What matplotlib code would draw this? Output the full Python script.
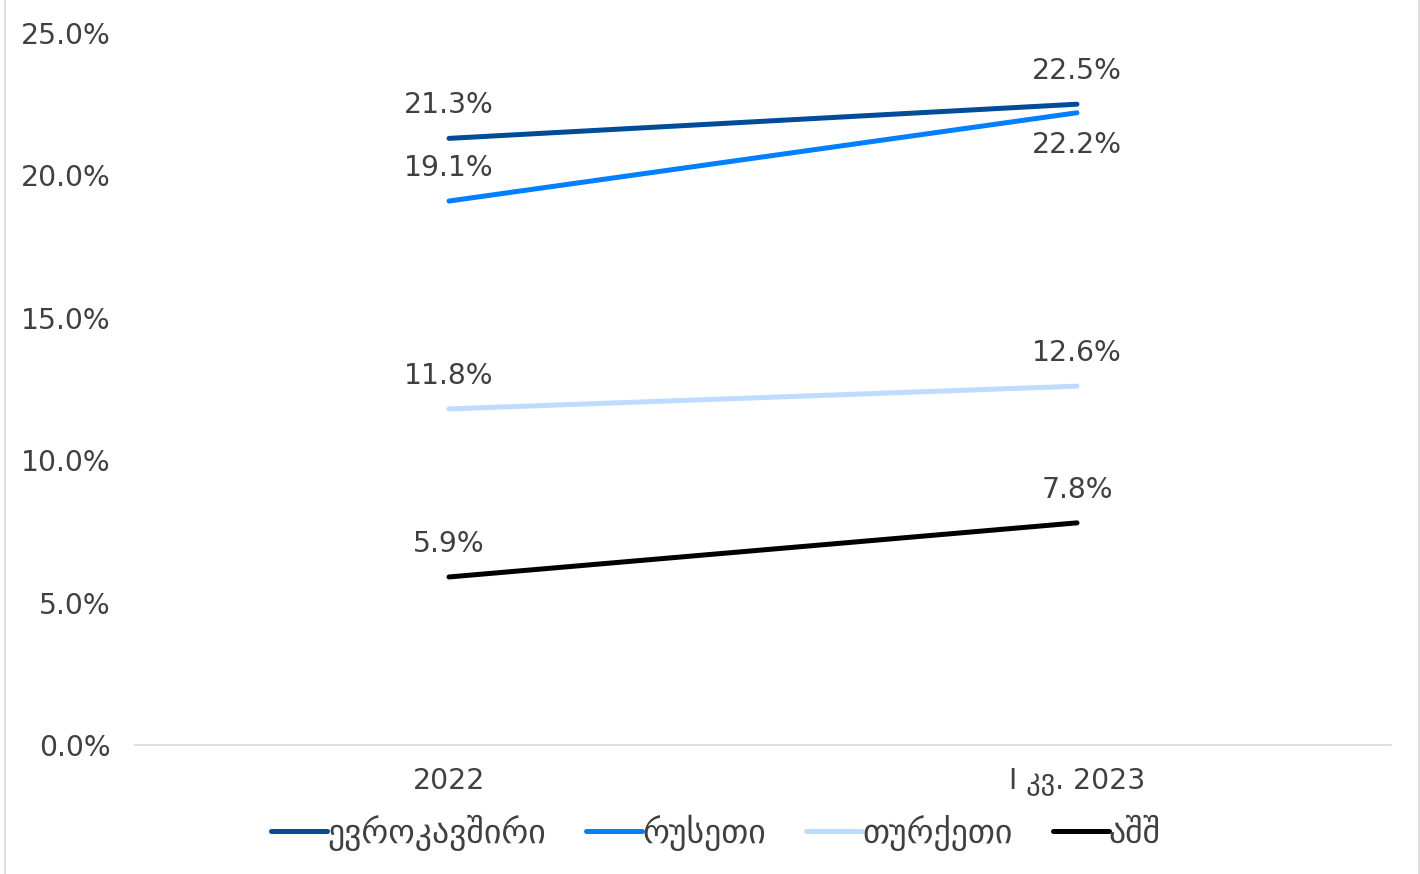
import matplotlib
matplotlib.use('Agg')
import matplotlib.pyplot as plt
from matplotlib.patches import Rectangle

categories = ['2022', 'I კვ. 2023']
series_names = ['ევროკავშირი', 'რუსეთი', 'თურქეთი', 'აშშ']
eu = [21.3, 22.5]
russia = [19.1, 22.2]
turkey = [11.8, 12.6]
usa = [5.9, 7.8]
colors = ['#004C99', '#0080FF', '#BDDCFF', '#000000']
yticks = [0, 5, 10, 15, 20, 25]

plt.rcParams['font.family'] = ['DejaVu Sans']
txt = '#404040'
fs = 20.3

fig = plt.figure(figsize=(14.2, 8.74), dpi=100)
ax = fig.add_axes([135 / 1420, 1 - 745 / 874, 1256 / 1420, 712 / 874])

x = range(len(categories))
all_series = [eu, russia, turkey, usa]
# label offsets in points (above, except russia 2023 below)
up, down = (0, 24), (0, -23)
offsets = [[up, up], [up, down], [up, up], [up, up]]
for vals, name, c, offs in zip(all_series, series_names, colors, offsets):
    ax.plot(x, vals, color=c, lw=3.6, solid_capstyle='round', label=name)
    for xi, v, o in zip(x, vals, offs):
        ax.annotate(f'{v:.1f}%', (xi, v), xytext=o, textcoords='offset points',
                    ha='center', va='center', fontsize=fs, color=txt)

ax.set_xlim(-0.5, 1.5)
ax.set_ylim(0, 25)
ax.set_yticks(yticks)
ax.set_yticklabels([f'{t:.1f}%' for t in yticks])
ax.set_xticks(list(x))
ax.set_xticklabels(categories)
ax.tick_params(axis='both', length=0, labelsize=fs, labelcolor=txt)
ax.tick_params(axis='y', pad=17.5)
ax.tick_params(axis='x', pad=16)
for s in ['top', 'right', 'left']:
    ax.spines[s].set_visible(False)
ax.spines['bottom'].set_color('#D9D9D9')
ax.spines['bottom'].set_linewidth(1.2)

leg = fig.legend(loc='center', bbox_to_anchor=(716 / 1420, 1 - 833 / 874), ncol=4,
                 frameon=False, fontsize=24.3, handlelength=1.65, handletextpad=0.0,
                 columnspacing=1.2)
for t in leg.get_texts():
    t.set_color(txt)
for h in leg.legend_handles:
    h.set_solid_capstyle('round')

fig.patches.append(Rectangle((5 / 1420, -0.01), 1414 / 1420, 1.02, transform=fig.transFigure,
                             fill=False, edgecolor='#D9D9D9', lw=1.2))

fig.savefig('out.png', dpi=100)
